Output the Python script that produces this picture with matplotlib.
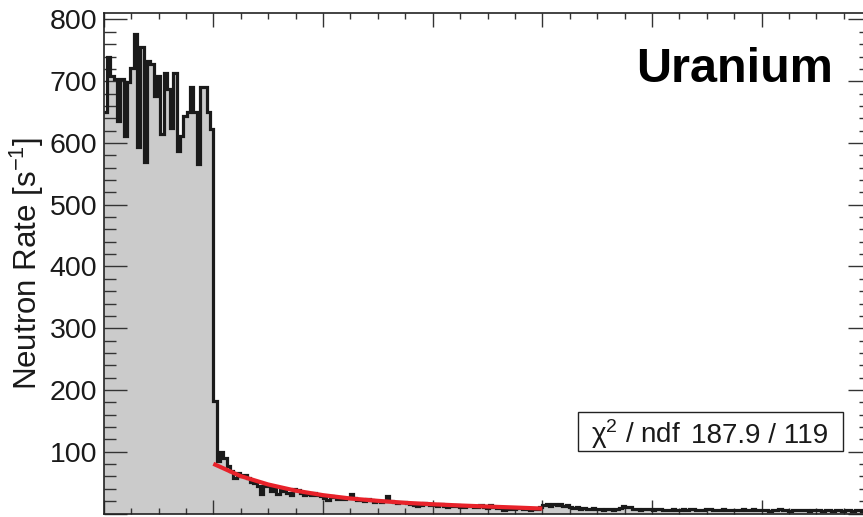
import numpy as np
import matplotlib
matplotlib.use("Agg")
import matplotlib.pyplot as plt
from matplotlib.patches import Rectangle

plt.rcParams['font.family'] = ['Liberation Sans', 'DejaVu Sans']
plt.rcParams['mathtext.fontset'] = 'custom'
plt.rcParams['mathtext.rm'] = 'Liberation Sans'
plt.rcParams['mathtext.it'] = 'Liberation Sans:italic'
plt.rcParams['mathtext.bf'] = 'Liberation Sans:bold'

# ---------------- data ----------------
x_min, x_max = 0.0, 70.0
n_bins = 231

# plateau (beam on)
rate_plateau = [650, 739, 709, 703, 636, 703, 611, 698, 722, 776, 593, 755, 569, 733, 728,
                676, 709, 614, 714, 687, 625, 714, 587, 611, 644, 650, 690, 650, 566, 690,
                690, 650, 622]
# decay region
rate_decay = [182, 85, 99, 90, 77, 69, 58, 66, 61, 63, 57, 51, 49, 45, 31, 44, 46, 37, 42, 31,
              38, 36, 34, 30, 40, 38, 33, 30, 31, 30, 34, 30, 28, 25, 22, 28, 27, 24, 24, 23,
              25, 31, 25, 22, 22, 20, 24, 22, 19, 20, 18, 21, 28, 20, 18, 17, 19, 18, 17, 16,
              14, 12, 13, 17, 16, 13, 13, 12, 16, 12, 11, 12, 12, 13, 11, 10, 12, 12, 10, 11,
              14, 11, 9, 13, 10, 9, 10, 5, 8, 7, 7, 9, 9, 7, 7, 6, 8, 8]
# tail
rate_tail = [10, 13, 15, 12, 16, 14, 15, 12, 14,
             11, 9, 10, 8, 9, 7, 8, 9, 7, 8,
             6, 7, 8, 6, 7, 9, 12, 11, 10, 8,
             7, 6, 7, 8, 7, 6, 8, 7, 6, 5,
             6, 7, 5, 6, 7, 6, 8, 7, 6, 5,
             6, 7, 8, 6, 5, 6, 7, 6, 5, 6,
             5, 6, 7, 5, 6, 8, 6, 5, 6, 5,
             4, 5, 6, 7, 5, 6, 4, 5, 6, 5,
             6, 5, 4, 5, 6, 5, 4, 6, 5, 4,
             5, 6, 4, 5, 5, 4, 6, 5, 4, 5, 5]

# fit curve
fit_x = [10, 12.5, 15, 17.5, 20, 22.5, 25, 27.5, 30, 32.5, 35, 37.5, 40]
fit_y = [80.5, 60.5, 47, 37, 29.7, 24.3, 20.5, 17.3, 15, 13, 11.3, 9.7, 8]

y_major = [0, 100, 200, 300, 400, 500, 600, 700, 800]
y_labels = ["", "100", "200", "300", "400", "500", "600", "700", "800"]
y_title = r"Neutron Rate [s$^{\mathregular{-1}}$]"
panel_label = "Uranium"
chi2_name = "χ$^{2}$ / ndf"
chi2_value = "187.9 / 119"

# ---------------- figure ----------------
W, H = 863, 517
fig = plt.figure(figsize=(W / 100, H / 100), dpi=100)
left_px, right_px, top_px, bot_px = 103.7, 871.3, 13.3, 513.5
ax = fig.add_axes([left_px / W, (H - bot_px) / H, (right_px - left_px) / W, (bot_px - top_px) / H])

values = np.array(rate_plateau + rate_decay + rate_tail, dtype=float)
edges = np.linspace(x_min, x_max, n_bins + 1)

ax.stairs(values, edges, baseline=0, fill=True, color='#cbcbcb', lw=0, zorder=1)
ax.stairs(values, edges, baseline=None, color='#1a1a1a', lw=2.3, zorder=2)
ax.plot(fit_x, fit_y, color='#e8222a', lw=3.0, solid_capstyle='butt', solid_joinstyle='round', zorder=3)

ax.set_xlim(x_min, x_max)
ax.set_ylim(0, 810)

ax.set_xticks(np.arange(0, 71, 10))
ax.set_xticks(np.arange(0, 70.1, 2.5), minor=True)
ax.set_yticks(y_major)
ax.set_yticklabels(y_labels)
ax.set_yticks(np.arange(0, 811, 20), minor=True)

ax.tick_params(axis='both', which='both', direction='in', top=True, right=True,
               color='#333333', width=1.0)
ax.tick_params(axis='x', which='major', length=10, labelbottom=False)
ax.tick_params(axis='x', which='minor', length=4.6)
ax.tick_params(axis='y', which='major', length=16.5, labelsize=20.5, pad=4.8, labelcolor='#1a1a1a')
ax.tick_params(axis='y', which='minor', length=8.4)

for s in ax.spines.values():
    s.set_linewidth(1.2)
    s.set_color('#222222')

fig.text(27 / W, 1 - 263 / H, y_title, rotation=90, ha='center', va='center',
         fontsize=22.5, color='#1a1a1a')

fig.text(833 / W, 1 - 81.7 / H, panel_label, ha='right', va='baseline',
         fontsize=35, fontweight='bold', color='black')

# chi2 box
bx0, bx1, by_top, by_bot = 578.3, 842.7, 412, 451
fig.patches.append(Rectangle((bx0 / W, 1 - by_bot / H), (bx1 - bx0) / W, (by_bot - by_top) / H,
                             transform=fig.transFigure, facecolor='white', edgecolor='#222222',
                             lw=1.0, zorder=5))
fig.text(591 / W, 1 - 443 / H, chi2_name, ha='left', va='baseline', fontsize=20,
         color='#1a1a1a', zorder=6)
fig.text(828 / W, 1 - 443 / H, chi2_value, ha='right', va='baseline', fontsize=20,
         color='#1a1a1a', zorder=6)

fig.savefig("out.png", dpi=100)
